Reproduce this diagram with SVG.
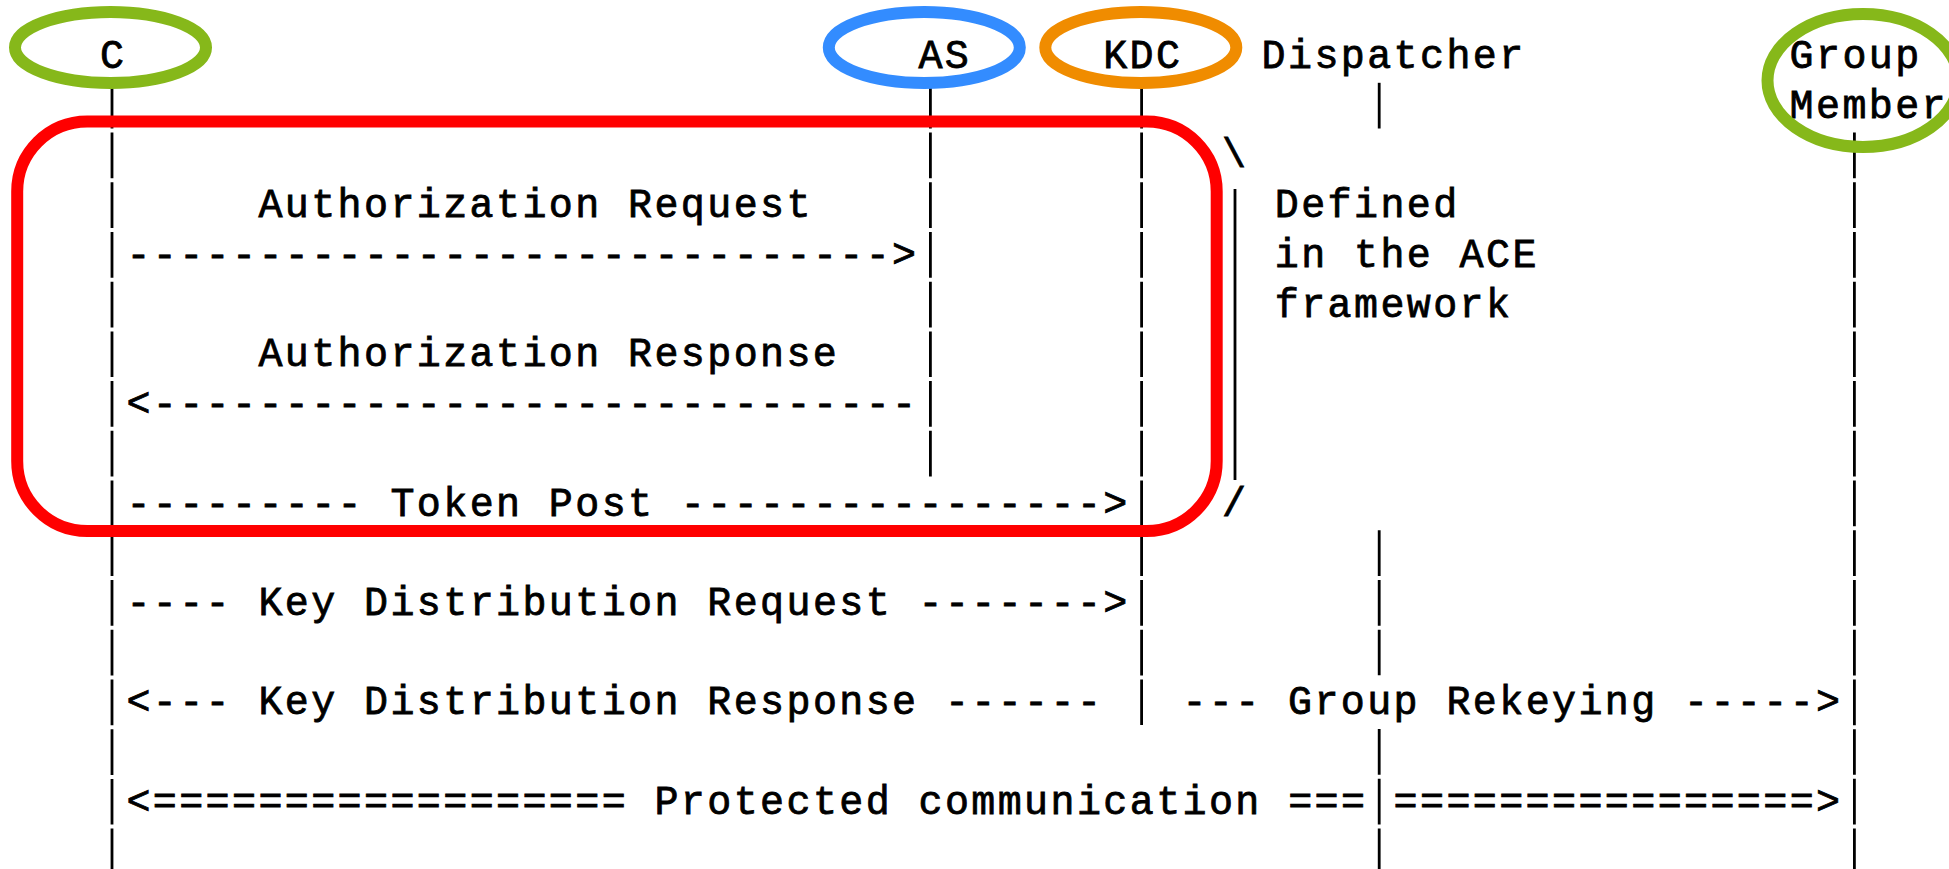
<svg xmlns="http://www.w3.org/2000/svg" width="1949" height="869" viewBox="0 0 1949 869">
<style>
  text { font-family: "Liberation Mono", "DejaVu Sans Mono", monospace; font-size: 40px; letter-spacing: 2.4px; fill: #000; stroke: #000; stroke-width: 0.8px; white-space: pre; }
  .life { stroke: #000; stroke-width: 2.8; stroke-dasharray: 45.72 4; fill: none; }
  .ring { fill: none; stroke-width: 12; }
  .green { stroke: #86b81a; }
  .blue { stroke: #338cff; }
  .orange { stroke: #f08c00; }
  .ace { fill: none; stroke: #ff0000; stroke-width: 12; }
</style>
<rect width="1949" height="869" fill="#fff"/>

<g id="connectors">
  <g id="lifelines">
    <line class="life" x1="112" y1="82.8" x2="112" y2="869"/>
    <line class="life" x1="930.4" y1="82.8" x2="930.4" y2="476.5"/>
    <line class="life" x1="1141.6" y1="82.8" x2="1141.6" y2="725.1"/>
    <line class="life" x1="1379.2" y1="82.8" x2="1379.2" y2="128.5"/>
    <line class="life" x1="1379.2" y1="530.2" x2="1379.2" y2="675.4"/>
    <line class="life" x1="1379.2" y1="729.1" x2="1379.2" y2="869"/>
    <line class="life" x1="1854.4" y1="132.5" x2="1854.4" y2="869"/>
  </g>
  <g id="msg-auth-req">
    <text x="258.4" y="217.2">Authorization Request</text>
    <text x="126.4" y="266.9">-----------------------------&gt;</text>
  </g>
  <g id="msg-auth-resp">
    <text x="258.4" y="366.3">Authorization Response</text>
    <text x="126.4" y="416">&lt;-----------------------------</text>
  </g>
  <g id="msg-token-post">
    <text x="126.4" y="515.5">--------- Token Post ----------------&gt;</text>
  </g>
  <g id="msg-key-req">
    <text x="126.4" y="614.9">---- Key Distribution Request -------&gt;</text>
  </g>
  <g id="msg-key-resp">
    <text x="126.4" y="714.4">&lt;--- Key Distribution Response ------</text>
  </g>
  <g id="msg-rekey">
    <text x="1182.4" y="714.4">--- Group Rekeying -----&gt;</text>
  </g>
  <g id="msg-protected">
    <text x="126.4" y="813.8">&lt;================== Protected communication ===</text>
    <text x="1393.6" y="813.8">================&gt;</text>
  </g>
</g>

<g id="node-C">
  <text x="100" y="68">C</text>
  <ellipse class="ring green" cx="110.5" cy="47.5" rx="95.5" ry="35.5"/>
</g>
<g id="node-AS">
  <text x="918.4" y="68">AS</text>
  <ellipse class="ring blue" cx="924.3" cy="47.5" rx="95.5" ry="35.5"/>
</g>
<g id="node-KDC">
  <text x="1103.2" y="68">KDC</text>
  <ellipse class="ring orange" cx="1140.8" cy="47.5" rx="95.5" ry="35.5"/>
</g>
<g id="node-Dispatcher">
  <text x="1261.6" y="68">Dispatcher</text>
</g>
<g id="node-GroupMember">
  <text x="1789.6" y="68">Group</text>
  <text x="1789.6" y="117.7">Member</text>
  <ellipse class="ring green" cx="1863" cy="80.5" rx="95.5" ry="66.5"/>
</g>

<g id="ace-framework">
  <rect class="ace" x="17.2" y="121.5" width="1199.5" height="409.5" rx="70" ry="70"/>
  <text x="1222" y="167.4">\</text>
  <line class="life" x1="1235" y1="189" x2="1235" y2="480" style="stroke-dasharray:none"/>
  <text x="1222" y="515.5">/</text>
  <text x="1274.8" y="217.2">Defined</text>
  <text x="1274.8" y="266.9">in the ACE</text>
  <text x="1274.8" y="316.6">framework</text>
</g>
</svg>
